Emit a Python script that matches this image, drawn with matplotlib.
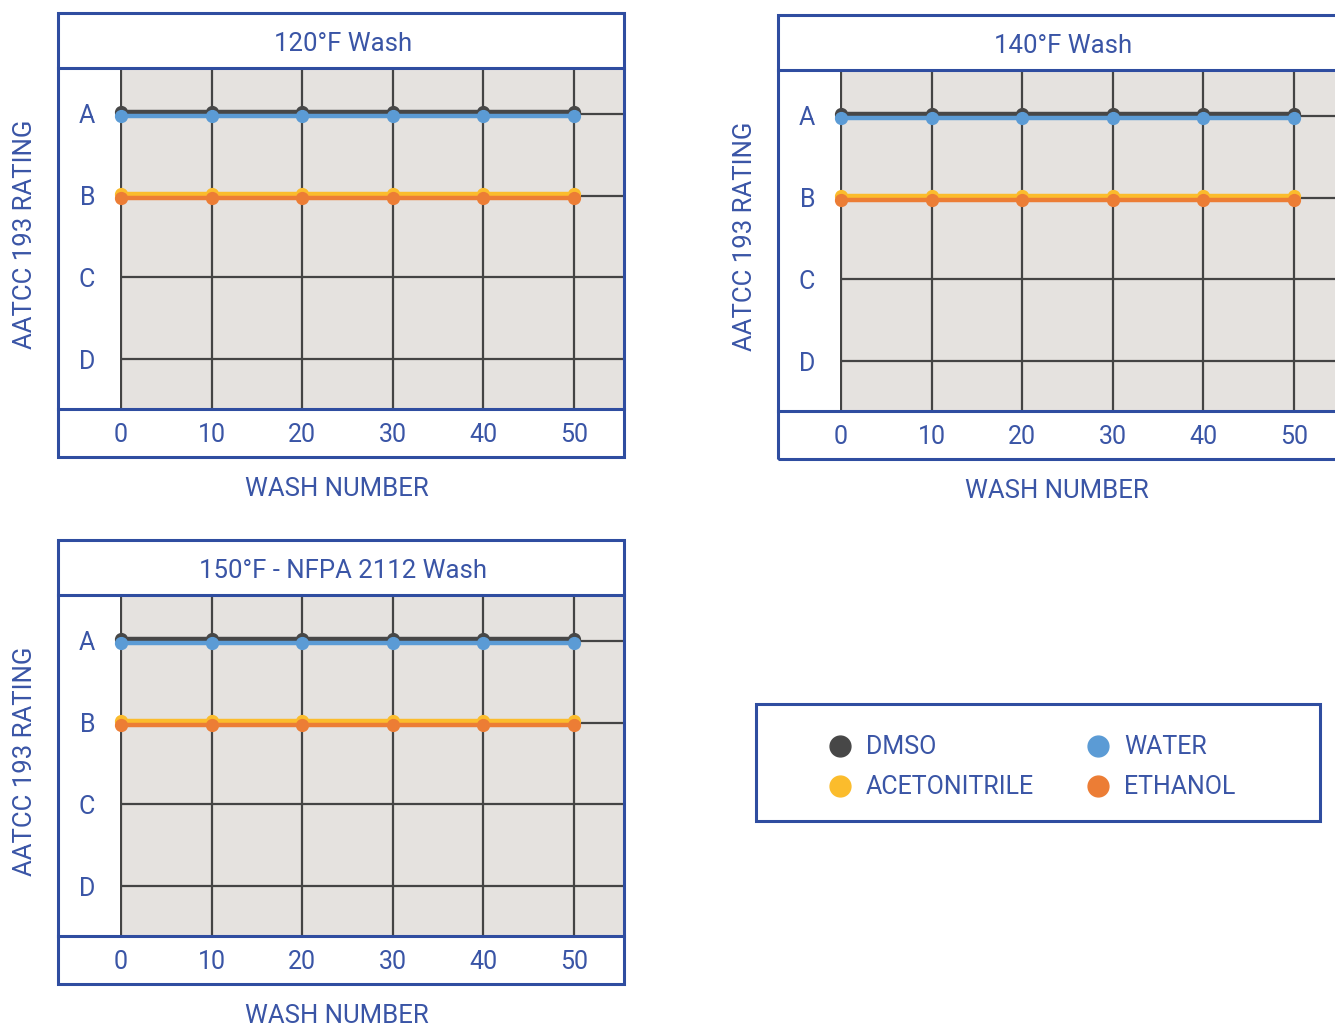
import matplotlib.pyplot as plt
from matplotlib.patches import Rectangle
from matplotlib.lines import Line2D
from matplotlib.transforms import ScaledTranslation

plt.rcParams['font.family'] = ['Roboto', 'DejaVu Sans']

# data
washes = [0, 10, 20, 30, 40, 50]
rating_labels = ["A", "B", "C", "D"]
rating_value = {"A": 4, "B": 3, "C": 2, "D": 1}
panel_titles = ["120°F Wash", "140°F Wash", "150°F - NFPA 2112 Wash"]
solvents = ["DMSO", "WATER", "ACETONITRILE", "ETHANOL"]

dmso = [["A", "A", "A", "A", "A", "A"],
        ["A", "A", "A", "A", "A", "A"],
        ["A", "A", "A", "A", "A", "A"]]
water = [["A", "A", "A", "A", "A", "A"],
         ["A", "A", "A", "A", "A", "A"],
         ["A", "A", "A", "A", "A", "A"]]
acetonitrile = [["B", "B", "B", "B", "B", "B"],
                ["B", "B", "B", "B", "B", "B"],
                ["B", "B", "B", "B", "B", "B"]]
ethanol = [["B", "B", "B", "B", "B", "B"],
           ["B", "B", "B", "B", "B", "B"],
           ["B", "B", "B", "B", "B", "B"]]

colors = {"DMSO": "#474747", "WATER": "#5B9BD5",
          "ACETONITRILE": "#FBBC2C", "ETHANOL": "#EC7D35"}
offsets = {"DMSO": 2, "WATER": -2, "ACETONITRILE": 2, "ETHANOL": -2}  # px, so overlapping lines show

BLUE = "#2F4DA0"
TEXT = "#3A55A6"
GRAY = "#E5E2DF"
GRID = "#444444"

W, H = 1335, 1026
fig = plt.figure(figsize=(W / 100, H / 100), dpi=100)


def fx(px):
    return px / W


def fy(py):
    return 1 - py / H


origins = [(58, 13), (778, 15), (58, 540)]
series = {"DMSO": dmso, "WATER": water, "ACETONITRILE": acetonitrile, "ETHANOL": ethanol}

for i, (L, T) in enumerate(origins):
    ax = fig.add_axes([fx(L + 62), fy(T + 396), 504 / W, 341 / H])
    ax.set_facecolor(GRAY)
    ax.set_xlim(-0.12, 55.52)
    ax.set_ylim(0.388, 4.563)
    ax.set_xticks(washes)
    ax.set_yticks([rating_value[r] for r in rating_labels])
    ax.set_yticklabels(rating_labels)
    ax.tick_params(length=0, colors=TEXT, labelsize=18)
    ax.tick_params(axis="y", pad=18)
    ax.tick_params(axis="x", pad=10)
    ax.grid(True, color=GRID, lw=1.6)
    ax.set_axisbelow(True)
    for s in ax.spines.values():
        s.set_visible(False)

    for name in solvents:
        vals = [rating_value[r] for r in series[name][i]]
        tr = ax.transData + ScaledTranslation(0, offsets[name] / 100, fig.dpi_scale_trans)
        ax.plot(washes, vals, color=colors[name], lw=3.2, marker="o", ms=8.5,
                clip_on=False, transform=tr, zorder=3)

    # frame around the panel
    fig.add_artist(Rectangle((fx(L), fy(T + 444)), 566 / W, 444 / H,
                             transform=fig.transFigure, fill=False, ec=BLUE, lw=2.2))
    for yy in (T + 55, T + 396):
        fig.add_artist(Line2D([fx(L), fx(L + 566)], [fy(yy), fy(yy)],
                              transform=fig.transFigure, color=BLUE, lw=2.2))

    fig.text(fx(L + 285), fy(T + 31), panel_titles[i], ha="center", va="center",
             fontsize=18.5, color=TEXT)
    fig.text(fx(L + 279), fy(T + 476), "WASH NUMBER", ha="center", va="center",
             fontsize=18.5, color=TEXT)
    fig.text(fx(25 + (L - 58)), fy(T + 221), "AATCC 193 RATING", ha="center", va="center",
             rotation=90, fontsize=18.5, color=TEXT)

# legend box
fig.add_artist(Rectangle((fx(756), fy(821)), 564 / W, 117 / H,
                         transform=fig.transFigure, fill=False, ec=BLUE, lw=2.2))
legend_pos = {"DMSO": (840, 746), "WATER": (1098, 746),
              "ACETONITRILE": (840, 786), "ETHANOL": (1098, 786)}
for name in solvents:
    x, y = legend_pos[name]
    fig.add_artist(Line2D([fx(x)], [fy(y)], transform=fig.transFigure, marker="o",
                          ms=15, color=colors[name], lw=0))
    fig.text(fx(x + 26), fy(y + 1), name, ha="left", va="center", fontsize=18, color=TEXT)

plt.savefig("out.png", dpi=100)
